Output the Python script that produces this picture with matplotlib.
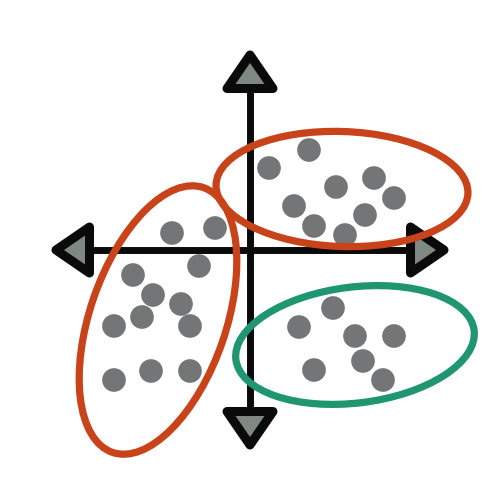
import matplotlib
matplotlib.use("Agg")
import matplotlib.pyplot as plt
from matplotlib.patches import Ellipse, Polygon

# dot positions (pixel space, y grows downward)
upper_x = [269, 309, 336, 374, 394, 294, 314, 345, 365]
upper_y = [168, 150, 187, 178, 198, 206, 226, 235, 215]

lower_x = [333, 299, 355, 394, 363, 314, 383]
lower_y = [308, 327, 336, 336, 361, 370, 380]

left_x = [172, 215, 199, 133, 153, 181, 142, 114, 190, 114, 151, 190]
left_y = [233, 228, 266, 275, 295, 304, 317, 326, 326, 380, 371, 371]

# cluster outlines: center x, center y, width, height, angle
ell_upper = [342, 189, 252, 115, 2]
ell_lower = [355, 345, 240, 116, -7]
ell_left = [158, 320, 136, 280, 19]

orange = "#c8431a"
green = "#1f9570"
dot_gray = "#737577"
arrow_gray = "#7f8883"

fig = plt.figure(figsize=(5, 5), dpi=100)
ax = fig.add_axes([0, 0, 1, 1])
ax.set_xlim(0, 500)
ax.set_ylim(500, 0)
ax.axis("off")

# axes cross
ax.plot([90, 410], [250, 250], color="#0a0a0a", lw=5, solid_capstyle="butt", zorder=2)
ax.plot([250, 250], [90, 410], color="#0a0a0a", lw=5, solid_capstyle="butt", zorder=2)

# arrow heads
heads = [
    [(250, 55), (227, 88.5), (273, 88.5)],
    [(250, 445), (227, 411.5), (273, 411.5)],
    [(56, 250), (89.5, 227), (89.5, 273)],
    [(444, 250), (410.5, 227), (410.5, 273)],
]
for h in heads:
    ax.add_patch(Polygon(h, closed=True, facecolor=arrow_gray, edgecolor="#0a0a0a",
                         lw=6.5, joinstyle="round", zorder=3))

# dots
for xs, ys in [(upper_x, upper_y), (lower_x, lower_y), (left_x, left_y)]:
    ax.scatter(xs, ys, s=290, color=dot_gray, edgecolors="none", zorder=4)

# ellipses
for e, c in [(ell_upper, orange), (ell_lower, green), (ell_left, orange)]:
    ax.add_patch(Ellipse((e[0], e[1]), e[2], e[3], angle=e[4], fill=False,
                         edgecolor=c, lw=5.2, zorder=5))

fig.savefig("out.png", dpi=100, facecolor="white")
